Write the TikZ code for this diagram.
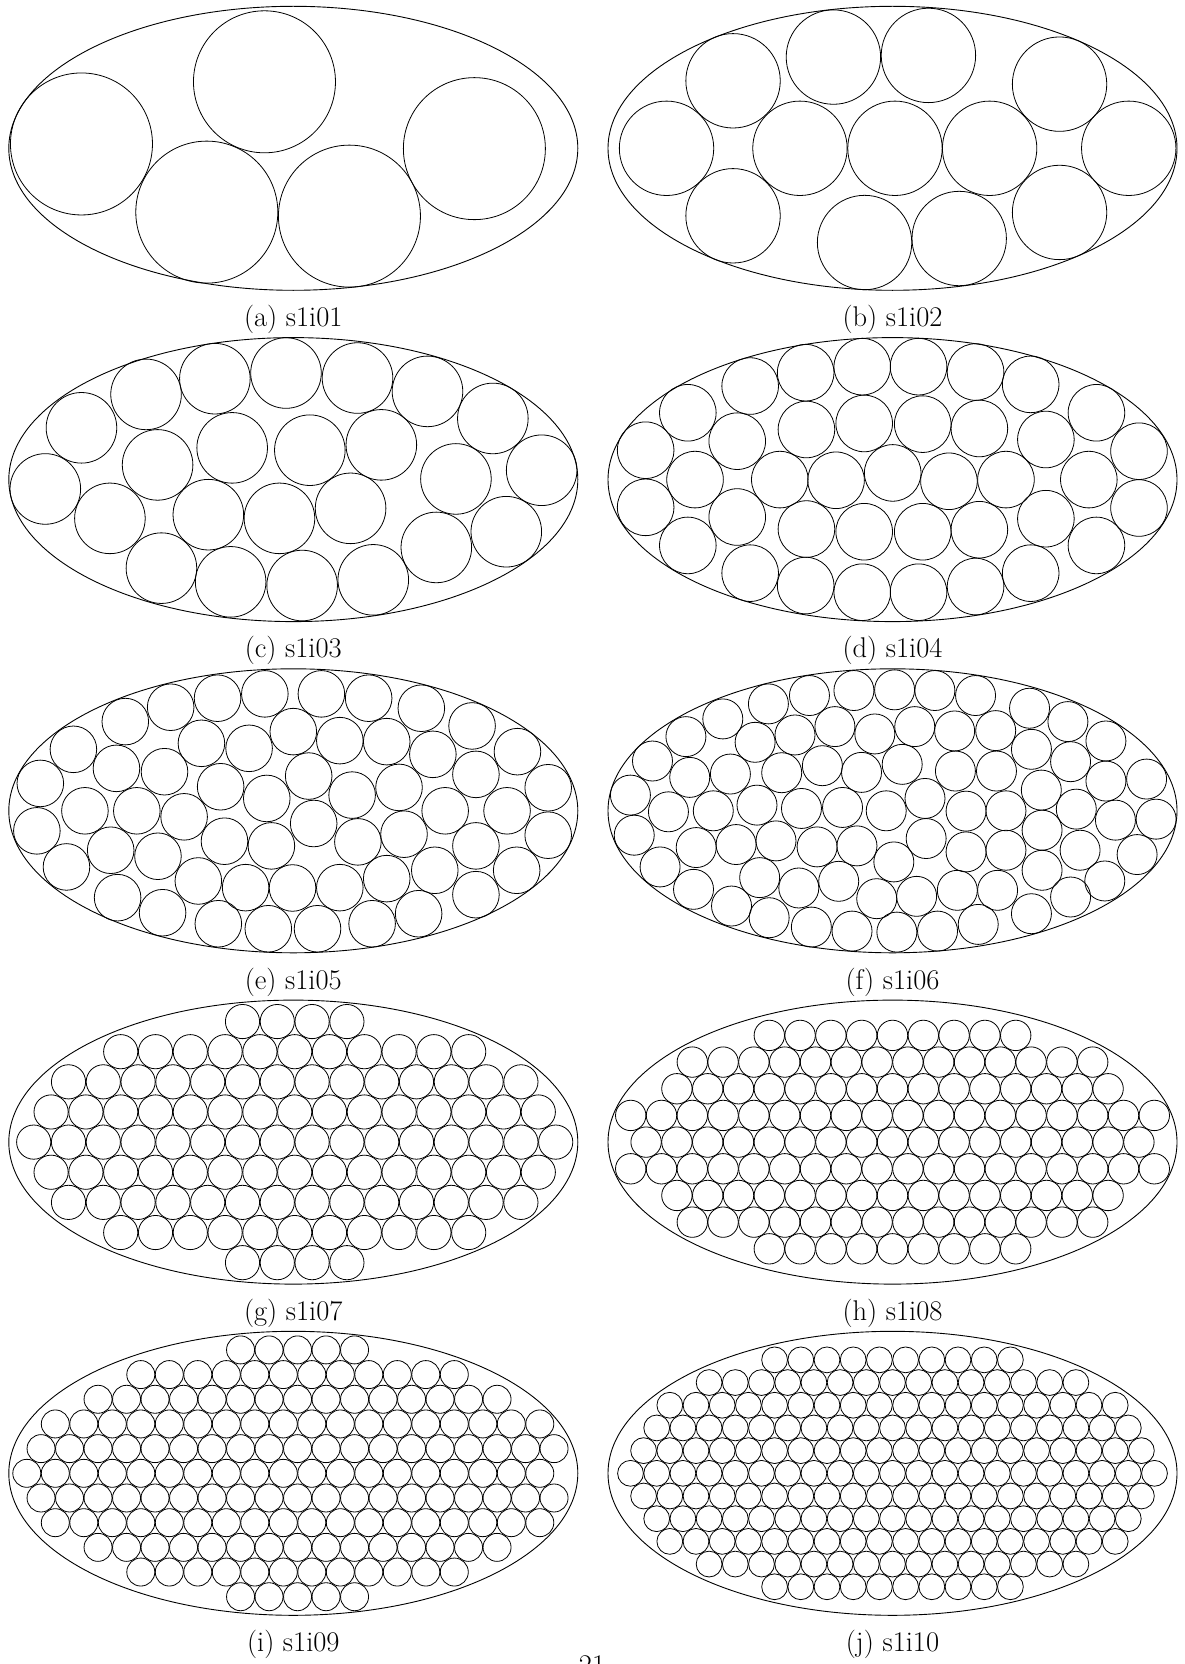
\documentclass[tikz,border=0pt]{standalone}
\tikzset{
  ell/.style={line width=0.9pt},
  circ/.style={line width=0.8pt},
  captext/.style={inner sep=0pt, font=\fontsize{28.5}{34}\selectfont},
}
% hexagonal lattice reaching the boundary, then boundary ring circles wherever they fit
% #1 radius, #2 lattice step, #3 lattice x-offset
\newcommand{\packfill}[3]{%
  \pgfmathsetmacro{\rgA}{284.5-#1}%
  \pgfmathsetmacro{\rgB}{142-#1}%
  \pgfmathsetmacro{\hfA}{284.5-3.1*#1}%
  \pgfmathsetmacro{\hfB}{142-3.1*#1}%
  \pgfmathsetmacro{\hfD}{2*#1*0.99}%
  \pgfmathsetmacro{\hfdy}{#2*0.8660254}%
  \gdef\bandlist{}%
  \foreach \j in {-6,...,6}{%
    \foreach \i in {-12,...,12}{%
      \pgfmathsetmacro{\hfx}{#3+\i*#2+mod(abs(\j),2)*#2/2}%
      \pgfmathsetmacro{\hfy}{\j*\hfdy}%
      \pgfmathsetmacro{\hft}{(\hfx/\rgA)^2+(\hfy/\rgB)^2}%
      \ifdim\hft pt<1pt
        \draw[circ] (\hfx,\hfy) circle[radius=#1pt];%
        \pgfmathsetmacro{\hfu}{(\hfx/\hfA)^2+(\hfy/\hfB)^2}%
        \ifdim\hfu pt<1pt\else
          \xdef\bandlist{\ifx\bandlist\empty\else\bandlist,\fi\hfx/\hfy}%
        \fi
      \fi
    }%
  }%
  \pgfmathsetmacro{\rgP}{pi*(3*(\rgA+\rgB)-sqrt(3*\rgA+\rgB)*sqrt(\rgA+3*\rgB))}%
  \pgfmathtruncatemacro{\rgN}{\rgP/(2*#1*1.01)}%
  \pgfmathsetmacro{\rgs}{\rgP/\rgN}%
  \gdef\ringlist{}\gdef\rglen{0}\gdef\rgnext{0}\gdef\rgc{0}%
  \foreach \t in {0,...,359}{%
    \pgfmathsetmacro\rgds{100*veclen(\rgA*sin(\t+0.5)/100,\rgB*cos(\t+0.5)/100)*pi/180}%
    \pgfmathsetmacro\rgend{\rglen+\rgds}%
    \ifnum\rgc<\rgN\relax
      \ifdim\rgnext pt<\rgend pt
        \pgfmathsetmacro\rgt{\t+(\rgnext-\rglen)/\rgds}%
        \pgfmathsetmacro\rgx{\rgA*cos(\rgt)}%
        \pgfmathsetmacro\rgy{\rgB*sin(\rgt)}%
        \xdef\ringlist{\ifx\ringlist\empty\else\ringlist,\fi\rgx/\rgy}%
        \pgfmathsetmacro\rgnn{\rgnext+\rgs}%
        \xdef\rgnext{\rgnn}%
        \pgfmathtruncatemacro\rgcc{\rgc+1}%
        \xdef\rgc{\rgcc}%
      \fi
    \fi
    \xdef\rglen{\rgend}%
  }%
  \foreach \qx/\qy in \ringlist {%
    \gdef\hfhit{0}%
    \foreach \bx/\by in \bandlist {%
      \pgfmathsetmacro\hfd{100*sqrt(((\qx-(\bx))/100)^2+((\qy-(\by))/100)^2)}%
      \ifdim\hfd pt<\hfD pt \gdef\hfhit{1}\fi
    }%
    \ifnum\hfhit=0 \draw[circ] (\qx,\qy) circle[radius=#1pt];\fi
  }%
}
\begin{document}
\begin{tikzpicture}[x=1pt,y=-1pt]
\useasboundingbox (0,0) rectangle (1184,1664);
% (a)
\begin{scope}[shift={(293.3,148.3)}]
  \draw[ell] (0,0) ellipse[x radius=284.5pt,y radius=142pt];
  \begin{scope}[x=0.38446pt,y=-0.33412pt,shift={(-762,-445)}]
    \foreach \p in {(211,432),(687,246),(537,636),(908,648),(1233,446)}
      \draw[circ] \p circle[radius=71pt];
  \end{scope}
\end{scope}
\node[captext] (capa) at (293.3,319.5) {(a) s1i01};
% (b)
\begin{scope}[shift={(892.5,148.3)}]
  \draw[ell] (0,0) ellipse[x radius=284.5pt,y radius=142pt];
  \begin{scope}[x=0.38009pt,y=-0.33412pt,shift={(-796.5,-445)}]
    \foreach \p in {(377,243),(641,172),(891,167),(1236,253),(202,445),(553,445),(803,445),(1052,445),(1418,445),(377,647),(723,727),(972,715),(1236,637)}
      \draw[circ] \p circle[radius=47.2pt];
  \end{scope}
\end{scope}
\node[captext] (capb) at (892.5,319.5) {(b) s1i02};
% (c)
\begin{scope}[shift={(293.3,479.6)}]
  \draw[ell] (0,0) ellipse[x radius=284.5pt,y radius=142pt];
  \begin{scope}[x=0.38446pt,y=-0.33412pt,shift={(-762,-450)}]
    \foreach \p in {(379,195),(558,148),(743,131),(929,146),(1111,186),(1281,267),(211,295),(409,406),(603,355),(805,362),(991,346),(1185,448),(1408,422),(117,478),(285,566),(541,555),(726,566),(911,536),(1134,653),(1316,606),(419,715),(599,756),(785,767),(970,750)}
      \draw[circ] \p circle[radius=35.3pt];
  \end{scope}
\end{scope}
\node[captext] (capc) at (293.3,650.8) {(c) s1i03};
% (d)
\begin{scope}[shift={(892.5,479.6)}]
  \draw[ell] (0,0) ellipse[x radius=284.5pt,y radius=142pt];
  \begin{scope}[x=0.38009pt,y=-0.33412pt,shift={(-796.5,-450)}]
    \foreach \p in {(258,250),(422,170),(568,130),(717,112),(865,112),(1015,128),(1160,165),(1333,250),
      (147,362),(388,335),(570,300),(722,282),(876,284),(1025,297),(1200,330),(1445,365),
      (277,450),(500,450),(648,452),(797,430),(945,455),(1095,450),(1313,450),
      (147,533),(388,562),(570,598),(722,606),(876,606),(1025,600),(1200,567),(1445,535),
      (258,647),(422,730),(568,767),(717,787),(865,787),(1015,770),(1160,730),(1333,647)}
      \draw[circ] \p circle[radius=28.3pt];
  \end{scope}
\end{scope}
\node[captext] (capd) at (892.5,650.8) {(d) s1i04};
% (e)
\begin{scope}[shift={(293.3,810.8)}]
  \draw[ell] (0,0) ellipse[x radius=284.5pt,y radius=142pt];
  \begin{scope}[x=0.38446pt,y=-0.33412pt,shift={(-762,-437)}]
    \foreach \p in {(325,170),(443,127),(565,100),(688,87),(835,87),(958,100),(1095,130),(1227,183),(1345,260),
      (190,253),(523,235),(647,250),(762,200),(883,227),(1005,230),(1125,268),(1237,328),
      (104,355),(302,310),(427,320),(573,365),(693,400),(802,333),(915,390),(1037,367),(1157,437),(1318,437),(1425,368),
      (95,497),(220,437),(355,437),(478,455),(583,528),(705,542),(815,475),(930,530),(1050,507),(1237,542),(1425,510),
      (172,605),(287,555),(410,573),(515,647),(638,667),(760,668),(883,667),(1005,640),(1130,615),(1343,615),(1237,688),
      (305,697),(422,742),(567,775),(697,790),(825,790),(967,775),(1088,745)}
      \draw[circ] \p circle[radius=23.3pt];
  \end{scope}
\end{scope}
\node[captext] (cape) at (293.3,982.0) {(e) s1i05};
% (f)
\begin{scope}[shift={(892.5,810.8)}]
  \draw[ell] (0,0) ellipse[x radius=284.5pt,y radius=142pt];
  \begin{scope}[x=0.38009pt,y=-0.33412pt,shift={(-796.5,-437)}]
    \foreach \p in {(350,162),(470,117),(578,92),(695,77),(802,75),(908,77),(1015,92),(1157,130),(1258,170),(1358,228),
      (253,215),(165,288),
      (435,232),(540,210),(645,185),(750,207),(855,185),(960,198),(1068,197),(1162,253),(1265,290),(1358,348),(1465,342),
      (107,390),
      (263,337),(370,327),(505,323),(612,302),(715,322),(822,298),(962,318),(1070,318),(1188,375),(1280,432),(1383,465),(1490,462),
      (207,440),(325,437),(440,420),(557,430),(665,427),(780,437),(882,400),(990,438),(1095,437),(1190,495),
      (117,510),(280,547),(385,538),(490,527),(598,545),(703,542),(885,520),(990,560),(1095,555),(1290,555),(1440,568),
      (185,605),(447,637),(550,668),(655,648),(800,590),(1190,615),(1355,647),
      (273,672),(373,722),(472,757),(583,785),(690,797),(808,800),(915,797),(1022,777),(1162,745),(1265,695),
      (755,700),(860,693),(967,675),(1073,675)}
      \draw[circ] \p circle[radius=20pt];
  \end{scope}
\end{scope}
\node[captext] (capf) at (892.5,982.0) {(f) s1i06};
% (g)
\begin{scope}[shift={(293.3,1142.1)}]
  \draw[ell] (0,0) ellipse[x radius=284.5pt,y radius=142pt];
  \packfill{17.1}{34.8}{-16}
\end{scope}
\node[captext] (capg) at (293.3,1313.3) {(g) s1i07};
% (h)
\begin{scope}[shift={(892.5,1142.1)}]
  \draw[ell] (0,0) ellipse[x radius=284.5pt,y radius=142pt];
  \packfill{15.2}{30.8}{0}
\end{scope}
\node[captext] (caph) at (892.5,1313.3) {(h) s1i08};
% (i)
\begin{scope}[shift={(293.3,1473.3)}]
  \draw[ell] (0,0) ellipse[x radius=284.5pt,y radius=142pt];
  \packfill{14}{28.5}{-10}
\end{scope}
\node[captext] (capi) at (293.3,1644.5) {(i) s1i09};
% (j)
\begin{scope}[shift={(892.5,1473.3)}]
  \draw[ell] (0,0) ellipse[x radius=284.5pt,y radius=142pt];
  \packfill{12.9}{26.2}{0}
\end{scope}
\node[captext] (capj) at (892.5,1644.5) {(j) s1i10};
% page number
\node[captext,anchor=base] (pagenum) at (592,1674) {21};
\end{tikzpicture}
\end{document}
